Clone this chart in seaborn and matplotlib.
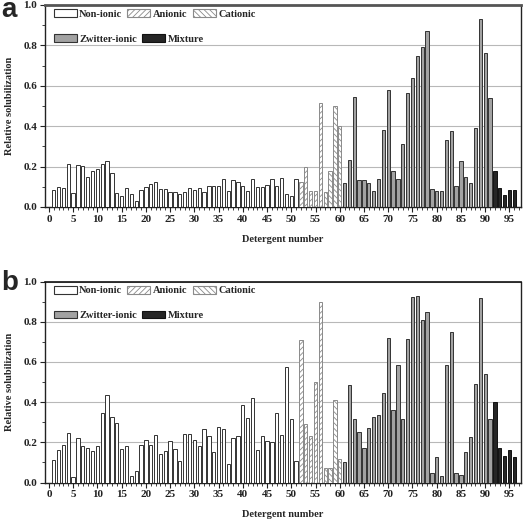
import pandas as pd
import seaborn as sns
import matplotlib.pyplot as plt
from matplotlib.patches import Patch
from matplotlib.ticker import MultipleLocator, FormatStrFormatter

# detergent numbers and their class
detergents = list(range(1, 97))
det_type = (['Non-ionic'] * 51 + ['Anionic'] * 5 + ['Cationic'] * 4
            + ['Zwitter-ionic'] * 31 + ['Mixture'] * 5)

# relative solubilization, panel a
solub_a = [0.082, 0.100, 0.095, 0.212, 0.068, 0.209, 0.203, 0.150, 0.177, 0.186,
           0.211, 0.226, 0.166, 0.071, 0.052, 0.092, 0.063, 0.030, 0.084, 0.100,
           0.116, 0.126, 0.091, 0.091, 0.074, 0.076, 0.066, 0.076, 0.094, 0.086,
           0.094, 0.076, 0.106, 0.104, 0.102, 0.140, 0.079, 0.134, 0.126, 0.102,
           0.081, 0.140, 0.098, 0.098, 0.111, 0.140, 0.102, 0.144, 0.064, 0.056,
           0.139, 0.126, 0.200, 0.079, 0.079, 0.514, 0.076, 0.180, 0.500, 0.400,
           0.117, 0.230, 0.545, 0.134, 0.132, 0.119, 0.078, 0.139, 0.380, 0.578,
           0.177, 0.139, 0.310, 0.562, 0.636, 0.749, 0.792, 0.870, 0.088, 0.078,
           0.078, 0.331, 0.375, 0.104, 0.226, 0.149, 0.117, 0.392, 0.929, 0.762,
           0.539, 0.178, 0.096, 0.060, 0.084, 0.084]

# relative solubilization, panel b
solub_b = [0.112, 0.163, 0.189, 0.245, 0.026, 0.220, 0.182, 0.170, 0.157, 0.182,
           0.345, 0.436, 0.325, 0.298, 0.165, 0.180, 0.033, 0.060, 0.187, 0.212,
           0.185, 0.237, 0.140, 0.155, 0.207, 0.166, 0.105, 0.243, 0.241, 0.211,
           0.180, 0.267, 0.231, 0.150, 0.278, 0.266, 0.090, 0.224, 0.232, 0.386,
           0.320, 0.422, 0.161, 0.230, 0.207, 0.202, 0.346, 0.237, 0.574, 0.316,
           0.105, 0.708, 0.290, 0.233, 0.502, 0.896, 0.071, 0.073, 0.413, 0.115,
           0.102, 0.487, 0.315, 0.250, 0.172, 0.273, 0.326, 0.334, 0.447, 0.721,
           0.360, 0.585, 0.316, 0.713, 0.922, 0.930, 0.810, 0.850, 0.050, 0.125,
           0.035, 0.585, 0.750, 0.046, 0.040, 0.154, 0.228, 0.490, 0.920, 0.540,
           0.315, 0.400, 0.173, 0.134, 0.162, 0.127]

type_order = ['Non-ionic', 'Anionic', 'Cationic', 'Zwitter-ionic', 'Mixture']
fills = {'Non-ionic': 'white', 'Anionic': 'white', 'Cationic': 'white',
         'Zwitter-ionic': '#a2a2a2', 'Mixture': '#262626'}
edges = {'Non-ionic': '#333333', 'Anionic': '#8a8a8a', 'Cationic': '#8a8a8a',
         'Zwitter-ionic': '#333333', 'Mixture': '#111111'}
hatches = {'Anionic': '//////', 'Cationic': '\\\\\\\\\\\\'}

sns.set_style('ticks')
plt.rcParams['font.family'] = ['Liberation Serif', 'DejaVu Serif']
plt.rcParams['font.weight'] = 'bold'
plt.rcParams['axes.labelweight'] = 'bold'
plt.rcParams['hatch.linewidth'] = 0.6

fig = plt.figure(figsize=(5.26, 5.2), dpi=100)
ax_a = fig.add_axes([0.0856, 0.602, 0.905, 0.3885])
ax_b = fig.add_axes([0.0856, 0.072, 0.905, 0.3865])

legend_font = {'family': 'Liberation Serif', 'weight': 'bold', 'size': 7.5}


def draw_panel(ax, values, letter, letter_y, top_lw, top_color, show_zero):
    df = pd.DataFrame({'detergent': detergents, 'solub': values, 'type': det_type})
    sns.barplot(data=df, x='detergent', y='solub', hue='type', hue_order=type_order,
                palette=fills, native_scale=True, dodge=False, width=0.68,
                errorbar=None, linewidth=0.7, edgecolor='#333333',
                legend=False, ax=ax, zorder=3)
    for p in ax.patches:
        n = int(round(p.get_x() + p.get_width() / 2))
        t = det_type[n - 1]
        p.set_edgecolor(edges[t])
        if t in hatches:
            p.set_hatch(hatches[t])

    ax.set_xlim(-0.8, 97.4)
    ax.set_ylim(0, 1.0)
    ax.xaxis.set_major_locator(MultipleLocator(5))
    ax.xaxis.set_minor_locator(MultipleLocator(1))
    ax.yaxis.set_major_locator(MultipleLocator(0.2))
    ax.yaxis.set_minor_locator(MultipleLocator(0.1))
    ax.yaxis.set_major_formatter(FormatStrFormatter('%.1f'))
    ax.grid(axis='y', color='#b8b8b8', lw=0.8, zorder=0)
    ax.set_axisbelow(True)

    ax.tick_params(which='major', direction='out', length=3.5, width=0.8,
                   labelsize=8, colors='#222222', pad=2)
    ax.tick_params(which='minor', direction='out', length=2, width=0.6, colors='#222222')
    for lab in ax.get_xticklabels() + ax.get_yticklabels():
        lab.set_fontweight('bold')
    if not show_zero:
        ax.yaxis.get_major_ticks()[0].label1.set_visible(False)

    for side in ['left', 'right', 'bottom']:
        ax.spines[side].set_linewidth(1.0)
        ax.spines[side].set_color('#222222')
    ax.spines['top'].set_linewidth(top_lw)
    ax.spines['top'].set_color(top_color)

    ax.set_xlabel('Detergent number', fontsize=7.5, fontweight='bold', labelpad=8)
    ax.set_ylabel('Relative solubilization', fontsize=7.5, fontweight='bold')
    ax.yaxis.set_label_coords(-0.066, 0.5)

    h = {t: Patch(facecolor=fills[t], edgecolor=edges[t], hatch=hatches.get(t),
                  linewidth=0.8, label=t) for t in type_order}
    row1 = ax.legend(handles=[h['Non-ionic'], h['Anionic'], h['Cationic']], ncol=3,
                     loc='center left', bbox_to_anchor=(0.018, 0.955), frameon=False,
                     handlelength=2.2, handleheight=0.75, handletextpad=0.25,
                     columnspacing=0.5, borderpad=0, borderaxespad=0, prop=legend_font)
    ax.add_artist(row1)
    ax.legend(handles=[h['Zwitter-ionic'], h['Mixture']], ncol=2,
              loc='center left', bbox_to_anchor=(0.018, 0.832), frameon=False,
              handlelength=2.2, handleheight=0.75, handletextpad=0.25,
              columnspacing=0.5, borderpad=0, borderaxespad=0, prop=legend_font)

    fig.text(0.002, letter_y, letter, fontsize=20, fontweight='bold',
             family='Liberation Sans', ha='left', va='baseline')


draw_panel(ax_a, solub_a, 'a', 1 - 17 / 520, 2.0, '#555555', False)
draw_panel(ax_b, solub_b, 'b', 1 - 290 / 520, 1.2, '#111111', True)

fig.savefig('out.png', dpi=100)
